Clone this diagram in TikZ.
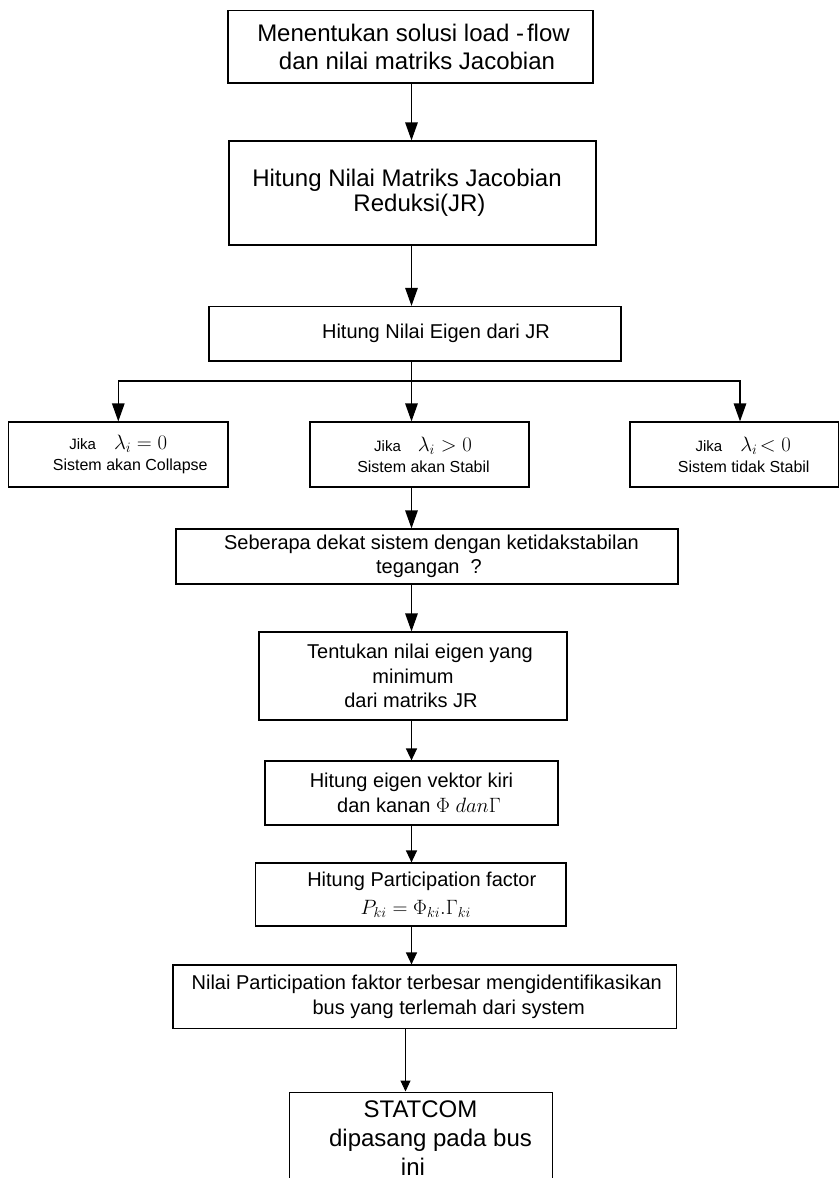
\documentclass[tikz,border=0pt]{standalone}
\usepackage[no-math]{fontspec}
\setmainfont{Liberation Sans}
\usetikzlibrary{arrows.meta}
\tikzset{
  box/.style={draw, line width=1.2pt, inner sep=0pt, align=center},
  conn/.style={line width=1.3pt},
  bigarr/.style={conn, -{Triangle[length=18pt,width=12.5pt]}},
  smallarr/.style={conn, -{Triangle[length=12pt,width=11pt]}},
  tinyarr/.style={line width=1pt, -{Triangle[length=11pt,width=10pt]}},
  fbig/.style={font=\fontsize{24pt}{28.5pt}\selectfont},
  fmid/.style={font=\fontsize{20pt}{24.5pt}\selectfont},
  fsmall/.style={font=\fontsize{16pt}{21pt}\selectfont}
}
\newcommand{\jika}{{\fontsize{15pt}{15pt}\selectfont Jika}}
\begin{document}
\begin{tikzpicture}[x=1pt,y=-1pt]
\useasboundingbox (0,0) rectangle (840,1178);
\clip (0,0) rectangle (840,1178);

% boxes
\node[box, fbig, minimum width=365pt, minimum height=72.5pt] (b1) at (410.5,46.75)
  {\hspace*{6pt}Menentukan solusi load -{\kern3pt}flow\\\hspace*{13pt}dan nilai matriks Jacobian};
\node[box, font=\fontsize{24pt}{25pt}\selectfont, minimum width=367pt, minimum height=104pt] (b2) at (412.5,193)
  {\hspace*{-11pt}Hitung Nilai Matriks Jacobian\\\hspace*{14pt}Reduksi(JR)};
\node[box, fmid, minimum width=412pt, minimum height=54.5pt] (b3) at (415,333.75)
  {\hspace*{42pt}Hitung Nilai Eigen dari JR};

\node[box, fsmall, minimum width=219.4pt, minimum height=65pt] (bL) at (118.3,454.5)
  {\jika\hspace{18pt}{\fontsize{21pt}{21pt}\selectfont$\lambda_i =0$}\\\hspace*{24pt}Sistem akan Collapse};
\node[box, fsmall, minimum width=219pt, minimum height=65pt] (bM) at (419.5,454.5)
  {\hspace*{7pt}\jika\hspace{17pt}{\fontsize{21pt}{21pt}\selectfont$\lambda_i >0$}\\\hspace*{8pt}Sistem akan Stabil};
\node[box, fsmall, minimum width=208.5pt, minimum height=65pt] (bR) at (734.25,454.5)
  {\hspace*{18pt}\jika\hspace{18pt}{\fontsize{21pt}{21pt}\selectfont$\lambda_i\!< 0$}\\\hspace*{19pt}Sistem tidak Stabil};

\node[box, fmid, minimum width=502pt, minimum height=55pt] (b4) at (427,556.5)
  {\hspace*{9pt}Seberapa dekat sistem dengan ketidakstabilan\\\hspace*{4pt}tegangan\ \ ?};
\node[box, fmid, minimum width=308pt, minimum height=88pt] (b5) at (413,676)
  {\hspace*{14pt}Tentukan nilai eigen yang\\minimum\\\hspace*{-4pt}dari matriks JR};
\node[box, fmid, minimum width=293pt, minimum height=64pt] (b6) at (411.5,793)
  {Hitung eigen vektor kiri\\\hspace*{15pt}dan kanan $\Phi\ dan\Gamma$};
\node[box, fmid, minimum width=310.5pt, minimum height=63pt] (b7) at (410.75,894.5)
  {\hspace*{22pt}Hitung Participation factor\\[3.5pt]\hspace*{10pt}$P_{ki} =\Phi_{ki}.\Gamma_{ki}$};
\node[box, fmid, minimum width=503.5pt, minimum height=63.5pt] (b8) at (424.75,996.75)
  {\hspace*{4pt}Nilai Participation faktor terbesar mengidentifikasikan\\\hspace*{48pt}bus yang terlemah dari system};
\node[box, line width=1pt, font=\fontsize{24pt}{29pt}\selectfont, minimum width=263pt, minimum height=92pt] (b9) at (420.5,1138)
  {STATCOM\\\hspace*{20pt}dipasang pada bus\\\hspace*{-15pt}ini};

% connectors
\coordinate (cx) at (411.5,0);
\coordinate (cy) at (405.5,0);
\coordinate (jn) at (411.5,381);
\coordinate (jr) at (740,381);

\draw[bigarr] (b1.south -| cx) -- (b2.north -| cx);
\draw[bigarr] (b2.south -| cx) -- (b3.north -| cx);
\draw[conn] (b3.south -| jn) -- (jn);
\draw[bigarr] (jn) -| (bL.north);
\draw[bigarr] (jn) -- (jn |- bM.north);
\draw[bigarr] (jn) -- (jr) -- (jr |- bR.north);
\draw[bigarr] (bM.south -| cx) -- (b4.north -| cx);
\draw[bigarr] (b4.south -| cx) -- (b5.north -| cx);
\draw[smallarr] (b5.south -| cx) -- (b6.north -| cx);
\draw[smallarr] (b6.south -| cx) -- (b7.north -| cx);
\draw[smallarr] (b7.south -| cx) -- (b8.north -| cx);
\draw[tinyarr] (b8.south -| cy) -- (b9.north -| cy);
\end{tikzpicture}
\end{document}
